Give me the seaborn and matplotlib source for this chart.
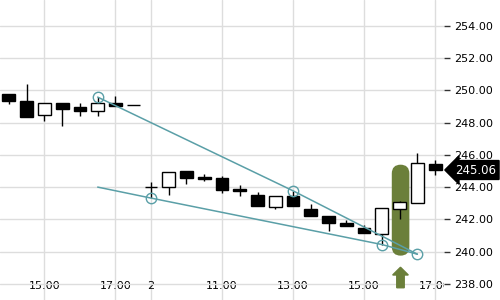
import matplotlib
matplotlib.use("Agg")
import matplotlib.pyplot as plt
import seaborn as sns
import numpy as np
from matplotlib.patches import FancyBboxPatch
import matplotlib.transforms as mtrans

# ---- data ----
opens  = [249.75, 249.36, 248.47, 249.24, 248.97, 248.72, 249.24, 249.07,
          243.98, 244.00, 245.01, 244.63, 244.58, 243.91, 243.52, 242.76,
          243.42, 242.67, 242.20, 241.78, 241.45, 241.08, 242.63, 243.00, 245.43]
highs  = [249.75, 250.42, 249.24, 249.24, 249.22, 249.59, 249.62, 249.07,
          244.31, 244.93, 245.01, 244.81, 244.66, 244.10, 243.71, 243.46,
          243.77, 242.94, 242.20, 241.95, 241.64, 242.70, 243.15, 246.11, 245.70]
lows   = [249.17, 248.32, 248.10, 247.76, 248.41, 248.41, 249.03, 249.07,
          243.32, 243.48, 244.19, 244.39, 243.63, 243.42, 242.80, 242.67,
          242.80, 242.22, 241.30, 241.58, 241.14, 240.44, 242.03, 243.00, 244.72]
closes = [249.34, 248.32, 249.24, 248.84, 248.70, 249.22, 249.03, 249.07,
          243.98, 244.93, 244.56, 244.53, 243.79, 243.73, 242.80, 243.46,
          242.80, 242.22, 241.76, 241.58, 241.14, 242.70, 243.07, 245.49, 245.06]

tick_idx = [2, 6, 8, 12, 16, 20, 24]
tick_labels = ["15:00", "17:00", "2", "11:00", "13:00", "15:00", "17:00"]

upper_x = [5, 16, 23]
upper_y = [249.58, 243.77, 239.84]
lower_x = [5, 8, 21, 23]
lower_y = [244.00, 243.32, 240.44, 239.84]
anchor_x = [5, 8, 16, 21, 23]
anchor_y = [249.58, 243.32, 243.77, 240.44, 239.84]

last_price = closes[-1]
highlight_idx = 22

# ---- figure ----
sns.set_style("white")
plt.rcParams['font.family'] = ['DejaVu Sans']
fig = plt.figure(figsize=(5, 3), dpi=100)
ax = fig.add_axes([0, 0, 444 / 500, 1])

x = np.arange(len(opens))
o = np.array(opens); c = np.array(closes)
hi = np.array(highs); lo = np.array(lows)

green = "#6b7f3a"
teal = "#5a9fa7"

# highlight pill
ax.add_patch(FancyBboxPatch((highlight_idx - 0.44, 239.75), 0.99, 5.64,
                            boxstyle="round,pad=0,rounding_size=0.5",
                            mutation_aspect=17.75 / 16.1,
                            fc=green, ec="none", zorder=1))
# arrow
ax.arrow(highlight_idx + 0.05, 237.76, 0, 1.27, width=0.42, head_width=0.88,
         head_length=0.48, length_includes_head=True, color=green, zorder=1,
         clip_on=False)

# wicks
ax.vlines(x, lo, hi, color="black", lw=1, zorder=3)
# bodies
up = c > o
body_bottom = np.minimum(o, c)
body_h = np.abs(c - o)
ax.bar(x, body_h, bottom=body_bottom, width=0.72,
       color=np.where(up, "white", "black"), edgecolor="black",
       linewidth=1, zorder=4)

# trend lines
sns.lineplot(x=upper_x, y=upper_y, sort=False, estimator=None, color=teal,
             linewidth=1.1, ax=ax, zorder=5)
sns.lineplot(x=lower_x, y=lower_y, sort=False, estimator=None, color=teal,
             linewidth=1.1, ax=ax, zorder=5)
ax.plot(anchor_x, anchor_y, ls="none", marker="o", ms=7.5, mfc="none",
        mec=teal, mew=1, zorder=6)

# axes
ax.set_xlim(-0.5, 24.5)
ax.set_ylim(237.0, 255.6)
ax.set_xticks(tick_idx)
ax.set_xticklabels(tick_labels)
ax.set_yticks(np.arange(238, 255, 2))
ax.set_yticklabels([f"{v:.2f}" for v in np.arange(238, 255, 2)])
ax.yaxis.tick_right()
ax.tick_params(axis="y", direction="out", length=4, width=1, colors="#333333",
               labelsize=8, labelcolor="black", pad=3)
ax.tick_params(axis="x", direction="in", length=4, width=1, colors="#333333",
               labelsize=8, labelcolor="black", pad=-14)
ax.grid(True, color="#dddddd", lw=1)
ax.set_axisbelow(True)
for s in ax.spines.values():
    s.set_visible(False)
ax.set_xlabel(""); ax.set_ylabel("")

# last price tag
trans = mtrans.blended_transform_factory(ax.transAxes, ax.transData)
ax.text(1.025, last_price, f"{last_price:.2f}", transform=trans, color="white",
        fontsize=8.5, va="center", ha="left", clip_on=False, zorder=10,
        bbox=dict(boxstyle="larrow,pad=0.25", fc="black", ec="black"))

fig.canvas.draw()
for lbl in ax.get_xticklabels():
    lbl.set_clip_on(True)
    lbl.set_clip_box(ax.bbox)

fig.savefig("out.png", dpi=100)
